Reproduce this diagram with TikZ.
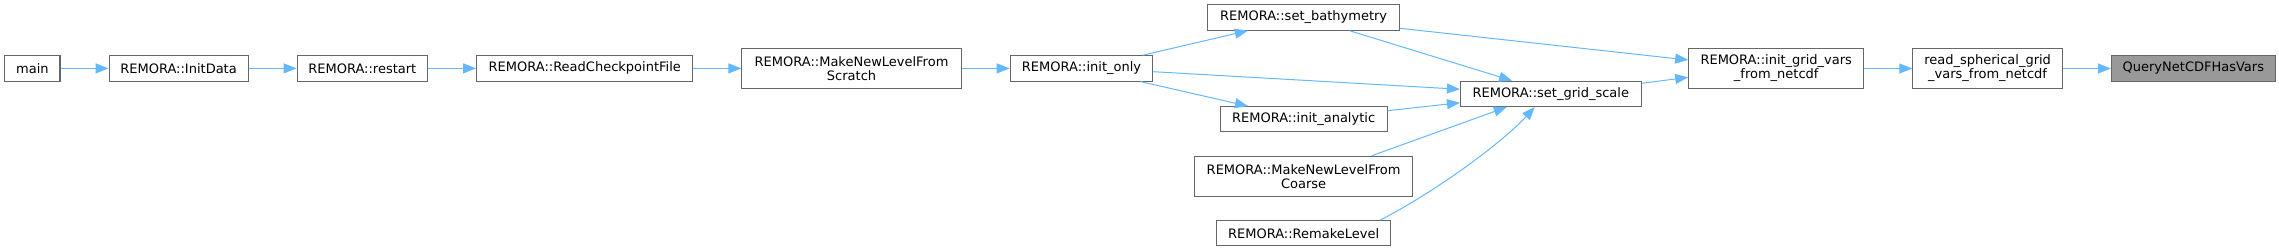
\documentclass[tikz,border=0pt]{standalone}
\usepackage{fontspec}
\setmainfont{DejaVu Sans}
\usepackage{tikz}
\usetikzlibrary{arrows.meta, positioning, calc}

\definecolor{edgeblue}{HTML}{63B8FF}
\definecolor{nodeline}{HTML}{666666}
\definecolor{nodegray}{HTML}{999999}

\begin{document}
\begin{tikzpicture}[
        x=0.75pt, y=-0.75pt,
        node distance=36pt,
        fn/.style={rectangle, draw=nodeline, line width=0.8pt, fill=white, align=center, inner xsep=2pt, inner ysep=1pt, minimum height=19pt, font=\fontsize{9.75}{10.5}\selectfont},
        fntwo/.style={fn, minimum height=30.3pt},
        edge/.style={draw=edgeblue, line width=0.75pt, -{Triangle[length=9.75pt, width=7.5pt]}}
    ]
    \useasboundingbox (0,0) rectangle (2279,252);

    % Callers along the main row
    \node [fn, minimum width=41.4pt] (main) at (32.4,68.4) {main};
    \node [fn, minimum width=104.25pt, right=of main] (initdata) {REMORA::InitData};
    \node [fn, minimum width=97.8pt, right=of initdata] (restart) {REMORA::restart};
    \node [fn, minimum width=162.2pt, right=of restart] (readchk) {REMORA::ReadCheckpointFile};
    \node [fntwo, minimum width=164.4pt, right=of readchk] (newscratch) {REMORA::MakeNewLevelFrom\\Scratch};
    \node [fn, minimum width=107pt, right=of newscratch] (initonly) {REMORA::init\_only};

    % Column of callers of set_grid_scale
    \node [fn, minimum width=143.6pt] (setbathy) at (1303.6,17.5) {REMORA::set\_bathymetry};
    \node [fn, minimum width=125.25pt] (initana) at (1303.6,119.3) {REMORA::init\_analytic};
    \node [fntwo, minimum width=164pt] (newcoarse) at (1303.6,176.5) {REMORA::MakeNewLevelFrom\\Coarse};
    \node [fn, minimum width=131pt] (remake) at (1303.6,233.3) {REMORA::RemakeLevel};

    % Right part
    \node [fn, minimum width=135.4pt] (setgrid) at (1550.75,93.85) {REMORA::set\_grid\_scale};
    \node [fntwo, minimum width=131.25pt] (initgrid) at (1776.2,68.5) {REMORA::init\_grid\_vars\\\_from\_netcdf};
    \node [fntwo, minimum width=112.2pt, right=of initgrid] (readsph) {read\_spherical\_grid\\\_vars\_from\_netcdf};
    \node [fn, minimum width=122.85pt, fill=nodegray, right=of readsph] (query) {QueryNetCDFHasVars};

    % Connecting lines
    \draw [edge] (main) -- (initdata);
    \draw [edge] (initdata) -- (restart);
    \draw [edge] (restart) -- (readchk);
    \draw [edge] (readchk) -- (newscratch);
    \draw [edge] (newscratch) -- (initonly);
    \draw [edge] ($(initonly.north)+(61.3,0)$) -- ($(setbathy.south)+(-55.8,0)$);
    \draw [edge] ($(initonly.east)+(0,3.3)$) -- ($(setgrid.west)+(0,-4.6)$);
    \draw [edge] ($(initonly.south)+(59,0)$) -- ($(initana.north)+(-55.7,0)$);
    \draw [edge] ($(setbathy.south)+(45.9,0)$) -- ($(setgrid.north)+(-38.75,0)$);
    \draw [edge] ($(setbathy.east)+(0,10.8)$) -- ($(initgrid.west)+(0,-8.5)$);
    \draw [edge] ($(initana.east)+(0,-8.6)$) -- ($(setgrid.west)+(0,8.9)$);
    \draw [edge] ($(newcoarse.north)+(68,0)$) -- ($(setgrid.south)+(-44,0)$);
    \draw [edge] ($(remake.north)+(76.6,0)$) .. controls +(60,-31) and +(-30,33) .. ($(setgrid.south)+(-16,0)$);
    \draw [edge] ($(setgrid.east)+(0,-10.5)$) -- ($(initgrid.west)+(0,8.8)$);
    \draw [edge] (initgrid) -- (readsph);
    \draw [edge] (readsph) -- (query);

\end{tikzpicture}
\end{document}
